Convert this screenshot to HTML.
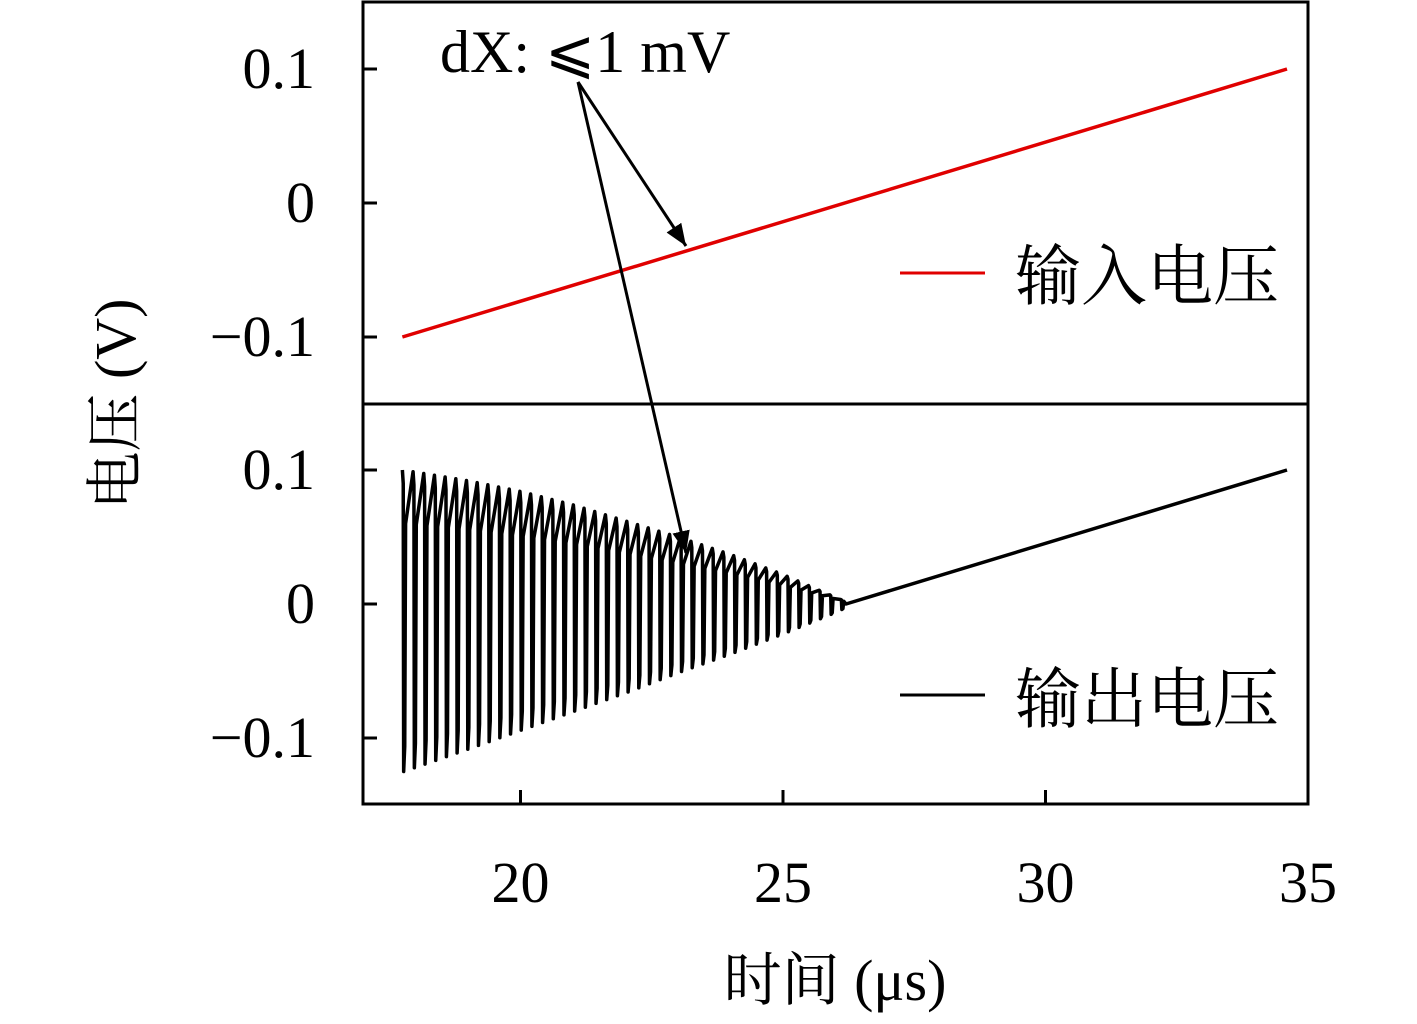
<!DOCTYPE html>
<html><head><meta charset="utf-8"><style>
html,body{margin:0;padding:0;background:#fff}
svg text{font-family:"Liberation Serif","Noto Serif CJK SC",serif;fill:#000}
</style></head><body>
<svg width="1417" height="1019" viewBox="0 0 1417 1019" xmlns="http://www.w3.org/2000/svg">
<defs><marker id="ah2" viewBox="0 0 10 10" markerWidth="22" markerHeight="30" refX="10" refY="5" orient="auto" markerUnits="userSpaceOnUse"><path d="M0,1 L10,5 L0,9 Z" fill="#000"/></marker></defs>
<g id="plot"></g>
<rect x="363" y="2" width="945" height="802" fill="none" stroke="#000" stroke-width="3"/>
<line x1="363" y1="404" x2="1308" y2="404" stroke="#000" stroke-width="3"/>
<g id="axes"></g>
<text x="115" y="404" font-size="58" text-anchor="middle" transform="rotate(-90 115 404)" dy="20">电压 (V)</text>
<text x="835" y="1000" font-size="58" text-anchor="middle">时间 (μs)</text>
<text x="440" y="72" font-size="60">dX: ⩽1 mV</text>
<line x1="578" y1="82" x2="686" y2="246" stroke="#000" stroke-width="3" marker-end="url(#ah2)"/>
<line x1="578" y1="82" x2="686" y2="553" stroke="#000" stroke-width="3" marker-end="url(#ah2)"/>
<line x1="900" y1="273" x2="985" y2="273" stroke="#e00000" stroke-width="3"/>
<text x="1015" y="299" font-size="66">输入电压</text>
<line x1="900" y1="695" x2="985" y2="695" stroke="#000" stroke-width="3"/>
<text x="1015" y="722" font-size="66">输出电压</text>
</svg>
<script>
const xTicks=[20,25,30,35];
const yTicks=[0.1,0,-0.1];
const yTickLabels=["0.1","0","\u22120.1"];
const inputT=[17.75,34.6];
const inputV=[-0.1,0.1];
const outRampT=[26.2,34.6];
const outRampV=[0.0,0.1];
const envT=[17.75,19,20,21,22,23,24,25,26,26.3];
const envUpper=[0.10,0.092,0.084,0.074,0.062,0.050,0.037,0.022,0.005,0.0];
const envLower=[-0.125,-0.108,-0.094,-0.08,-0.066,-0.051,-0.037,-0.022,-0.006,0.0];
const cycleCount=[42];

const NS="http://www.w3.org/2000/svg";
const X=t=>363+(t-17)*52.5;
const YT=v=>203-v*1340;
const YB=v=>604-v*1340;
const plot=document.getElementById('plot'),axes=document.getElementById('axes');
function mk(tag,attrs,parent){const e=document.createElementNS(NS,tag);for(const k in attrs)e.setAttribute(k,attrs[k]);parent.appendChild(e);return e;}
function interp(ts,vs,t){for(let i=0;i<ts.length-1;i++){if(t<=ts[i+1]){const f=(t-ts[i])/(ts[i+1]-ts[i]);return vs[i]+f*(vs[i+1]-vs[i]);}}return vs[vs.length-1];}
xTicks.forEach(t=>{
 const l=mk('line',{x1:X(t),x2:X(t),y1:804,y2:790,stroke:'#000','stroke-width':3},axes);
 
 
 const tx=mk('text',{x:X(t),y:902,'font-size':58,'text-anchor':'middle'},axes);tx.textContent=String(t);
 
 
});
[YT,YB].forEach((Y,p)=>yTicks.forEach((v,i)=>{
 const l=mk('line',{x1:363,x2:377,y1:Y(v),y2:Y(v),stroke:'#000','stroke-width':3},axes);
 
 
 const tx=mk('text',{x:315,y:Y(v)+19,'font-size':58,'text-anchor':'end'},axes);tx.textContent=yTickLabels[i];
 
 
}));
const inp=mk('polyline',{points:inputT.map((t,i)=>X(t)+','+YT(inputV[i])).join(' '),fill:'none',stroke:'#e00000','stroke-width':3.5},plot);


let pts=[];
const n=cycleCount[0],t0=envT[0],t1=envT[envT.length-1],dt=(t1-t0)/n;
for(let k=0;k<n;k++){
 const ta=t0+k*dt;
 pts.push(X(ta)+','+YB(interp(envT,envUpper,ta)));
 pts.push(X(ta+dt*0.08)+','+YB(interp(envT,envUpper,ta)*0.9));
 pts.push(X(ta+dt*0.12)+','+YB(interp(envT,envLower,ta)));
 pts.push(X(ta+dt*0.22)+','+YB(interp(envT,envLower,ta)*0.85));
 pts.push(X(ta+dt*0.3)+','+YB(interp(envT,envUpper,ta)*0.6));
}
pts.push(X(outRampT[0])+','+YB(outRampV[0]));
pts.push(X(outRampT[1])+','+YB(outRampV[1]));
const out=mk('polyline',{points:pts.join(' '),fill:'none',stroke:'#000','stroke-width':3.5,'stroke-linejoin':'round'},plot);


</script>
</body></html>
